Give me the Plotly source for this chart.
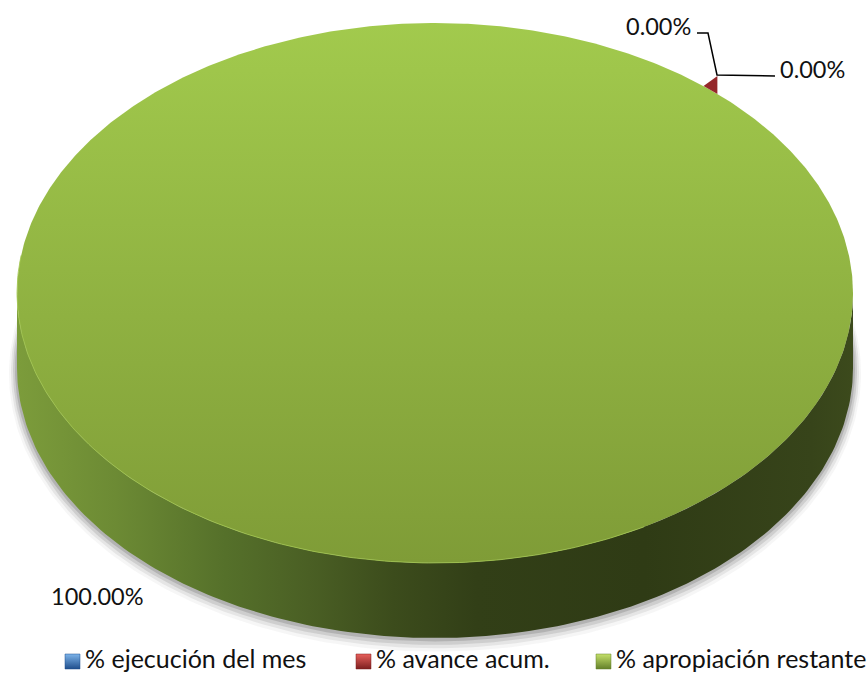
"""Pie 3D de avance presupuestal, dibujado con scatter sobre ejes en pixeles."""
import numpy as np
import plotly.graph_objects as go

# datos
categorias = ["% ejecución del mes", "% avance acum.", "% apropiación restante"]
etiquetas = ["0.00%", "0.00%", "100.00%"]
# el corte rojo se ve apenas en la imagen aunque la etiqueta redondea a 0.00%
valores = [0.0, 0.7, 99.3]
colores_leyenda = [("#7db4ea", "#1f4e8c"), ("#e8605c", "#7d1f1f"), ("#c4e06a", "#64802a")]

W, H = 868, 673
CX, CY, RX, RY = 435, 293, 418, 270
ALTO = 75
INICIO = 47.5  # angulo donde arranca el corte rojo


def aro(t):
    t = np.radians(t)
    return CX + RX * np.cos(t), CY - RY * np.sin(t)


fig = go.Figure()

# sombra suave del cuerpo
t = np.linspace(0, 360, 361)
for extra, alfa in [(8, 0.05), (6, 0.09), (4, 0.14), (2, 0.2)]:
    x = CX + (RX + extra) * np.cos(np.radians(t))
    y = CY + ALTO + extra * 0.7 - (RY + extra) * np.sin(np.radians(t))
    fig.add_trace(go.Scatter(x=x, y=y, mode="lines", line_width=0, fill="toself",
                             fillcolor=f"rgba(70,70,70,{alfa})", hoverinfo="skip"))

# pared lateral
t = np.linspace(180, 360, 181)
xa, ya = aro(t)
fig.add_trace(go.Scatter(
    x=np.r_[xa, xa[::-1]], y=np.r_[ya + ALTO, ya[::-1]], mode="lines", line_width=0,
    fill="toself", hoverinfo="skip",
    fillgradient=dict(type="horizontal", colorscale=[
        [0, "#7c9c3b"], [0.12, "#6c8a34"], [0.25, "#55702a"], [0.35, "#4a5f24"],
        [0.45, "#3c4c1c"], [0.55, "#323f17"], [0.75, "#2f3b15"], [0.95, "#37441a"],
        [1, "#3c4a1c"]]),
))

# tapa
t = np.linspace(0, 360, 721)
xa, ya = aro(t)
fig.add_trace(go.Scatter(
    x=xa, y=ya, mode="lines", line_width=0, fill="toself", hoverinfo="skip",
    fillgradient=dict(type="vertical", colorscale=[[0, "#7f9c37"], [1, "#a2ca4d"]]),
))

# brillo del borde inferior de la tapa
t = np.linspace(172, 300, 150)
xa, ya = aro(t)
fig.add_trace(go.Scatter(x=xa, y=ya, mode="lines", line=dict(color="rgba(164,200,80,0.8)", width=1),
                         hoverinfo="skip"))

# corte rojo, se levanta un poco sobre el aro
barrido = valores[1] / 100 * 360 * 1.0
t = np.linspace(INICIO, INICIO + barrido, 8)
xa, ya = aro(t)
fig.add_trace(go.Scatter(x=np.r_[xa, xa[0]], y=np.r_[ya, ya[0] - 18], mode="lines", line_width=0,
                         fill="toself", fillcolor="#95272a", hoverinfo="skip"))

# lineas guia
fig.add_trace(go.Scatter(x=[697, 708, 717, 775], y=[33, 33, 75, 76], mode="lines",
                         line=dict(color="black", width=1.5), hoverinfo="skip"))

fuente = dict(family="Lato", size=23.5, color="#111111")
fig.add_annotation(x=693, y=26, text=etiquetas[0], showarrow=False, xanchor="right", font=fuente)
fig.add_annotation(x=778, y=69, text=etiquetas[1], showarrow=False, xanchor="left", font=fuente)
fig.add_annotation(x=49, y=596, text=etiquetas[2], showarrow=False, xanchor="left", font=fuente)

# leyenda
fuente_leyenda = dict(family="Lato", size=25, color="#111111")
pos_x = [65, 356, 596]
for nombre, px_, (claro, oscuro) in zip(categorias, pos_x, colores_leyenda):
    fig.add_trace(go.Scatter(x=[px_ + 7.5], y=[661.5], mode="markers", hoverinfo="skip",
                             marker=dict(symbol="square", size=15, color=claro,
                                         line=dict(color=oscuro, width=0.5),
                                         gradient=dict(type="vertical", color=oscuro))))
    fig.add_trace(go.Scatter(x=[px_ + 20], y=[662], mode="text", text=[nombre],
                             textposition="middle right", textfont=fuente_leyenda, hoverinfo="skip"))

fig.update_layout(
    width=W, height=H, margin=dict(l=0, r=0, t=0, b=0), showlegend=False,
    paper_bgcolor="white", plot_bgcolor="white",
    xaxis=dict(range=[0, W], visible=False, fixedrange=True),
    yaxis=dict(range=[H, 0], visible=False, fixedrange=True),
)
fig.write_html("out.html", config=dict(displayModeBar=False),
               post_script="document.body.style.margin='0';")
